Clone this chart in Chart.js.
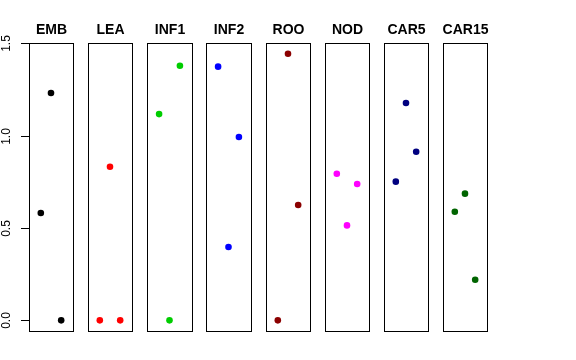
<!DOCTYPE html>
<html>
<head>
<meta charset="utf-8">
<script src="https://cdn.jsdelivr.net/npm/chart.js@4.4.0/dist/chart.umd.min.js"></script>
<style>
body { margin: 0; background: #fff; }
#wrap { position: relative; width: 576px; height: 360px; }
#wrap canvas { position: absolute; left: 0; top: 0; }
</style>
</head>
<body>
<div id="wrap"></div>
<script>
var panels = ['EMB', 'LEA', 'INF1', 'INF2', 'ROO', 'NOD', 'CAR5', 'CAR15'];
var colors = ['#000000', '#FF0000', '#00CD00', '#0000FF', '#8B0000', '#FF00FF', '#000080', '#006400'];
var xPos = [1, 2, 3];

// one value per x position, per panel
var emb = [0.581, 1.231, 0];
var lea = [0, 0.832, 0];
var inf1 = [1.117, 0, 1.379];
var inf2 = [1.374, 0.397, 0.993];
var roo = [0, 1.444, 0.625];
var nod = [0.794, 0.514, 0.738];
var car5 = [0.751, 1.177, 0.913];
var car15 = [0.588, 0.686, 0.220];
var values = [emb, lea, inf1, inf2, roo, nod, car5, car15];

var yTicks = [0, 0.5, 1, 1.5];
var yLabels = ['0.0', '0.5', '1.0', '1.5'];

var W = 576, H = 360;
var font = '"Liberation Sans", Arial, Helvetica, sans-serif';

// box, title, and y axis on the first panel
var panelDeco = {
    id: 'panelDeco',
    afterDraw: function (chart) {
        var ctx = chart.ctx;
        var a = chart.chartArea;
        ctx.save();
        ctx.strokeStyle = '#000';
        ctx.lineWidth = 1;
        ctx.strokeRect(a.left + 0.5, a.top + 0.5, a.right - a.left, a.bottom - a.top);

        ctx.fillStyle = '#000';
        ctx.font = 'bold 14px ' + font;
        ctx.textAlign = 'center';
        ctx.textBaseline = 'alphabetic';
        ctx.fillText(chart.options.panelName, (a.left + a.right) / 2 + 0.5, 34);

        if (chart.options.showAxis) {
            var sc = chart.scales.y;
            ctx.font = '12px ' + font;
            for (var i = 0; i < yTicks.length; i++) {
                var py = Math.round(sc.getPixelForValue(yTicks[i])) + 0.5;
                ctx.beginPath();
                ctx.moveTo(a.left - 8, py);
                ctx.lineTo(a.left, py);
                ctx.stroke();
                ctx.save();
                ctx.translate(10, py);
                ctx.rotate(-Math.PI / 2);
                ctx.fillText(yLabels[i], 0, 0);
                ctx.restore();
            }
        }
        ctx.restore();
    }
};

var wrap = document.getElementById('wrap');

for (let i = 0; i < panels.length; i++) {
    var left = Math.round(29 + i * 59.14);
    var right = Math.round(73.3 + i * 59.14);

    var canvas = document.createElement('canvas');
    canvas.width = W;
    canvas.height = H;
    wrap.appendChild(canvas);

    var pts = [];
    for (let j = 0; j < xPos.length; j++) {
        pts.push({ x: xPos[j], y: values[i][j] });
    }

    new Chart(canvas.getContext('2d'), {
        type: 'scatter',
        data: {
            datasets: [{
                data: pts,
                backgroundColor: colors[i],
                borderColor: colors[i],
                borderWidth: 0,
                pointRadius: 3.3
            }]
        },
        options: {
            responsive: false,
            animation: false,
            events: [],
            panelName: panels[i],
            showAxis: i === 0,
            layout: {
                padding: { left: left, right: W - right, top: 43, bottom: 29 }
            },
            scales: {
                x: { type: 'linear', min: -0.16, max: 4.16, display: false },
                y: { type: 'linear', min: -0.0578, max: 1.502, display: false }
            },
            plugins: {
                legend: { display: false },
                tooltip: { enabled: false }
            }
        },
        plugins: [panelDeco]
    });
}
</script>
</body>
</html>
